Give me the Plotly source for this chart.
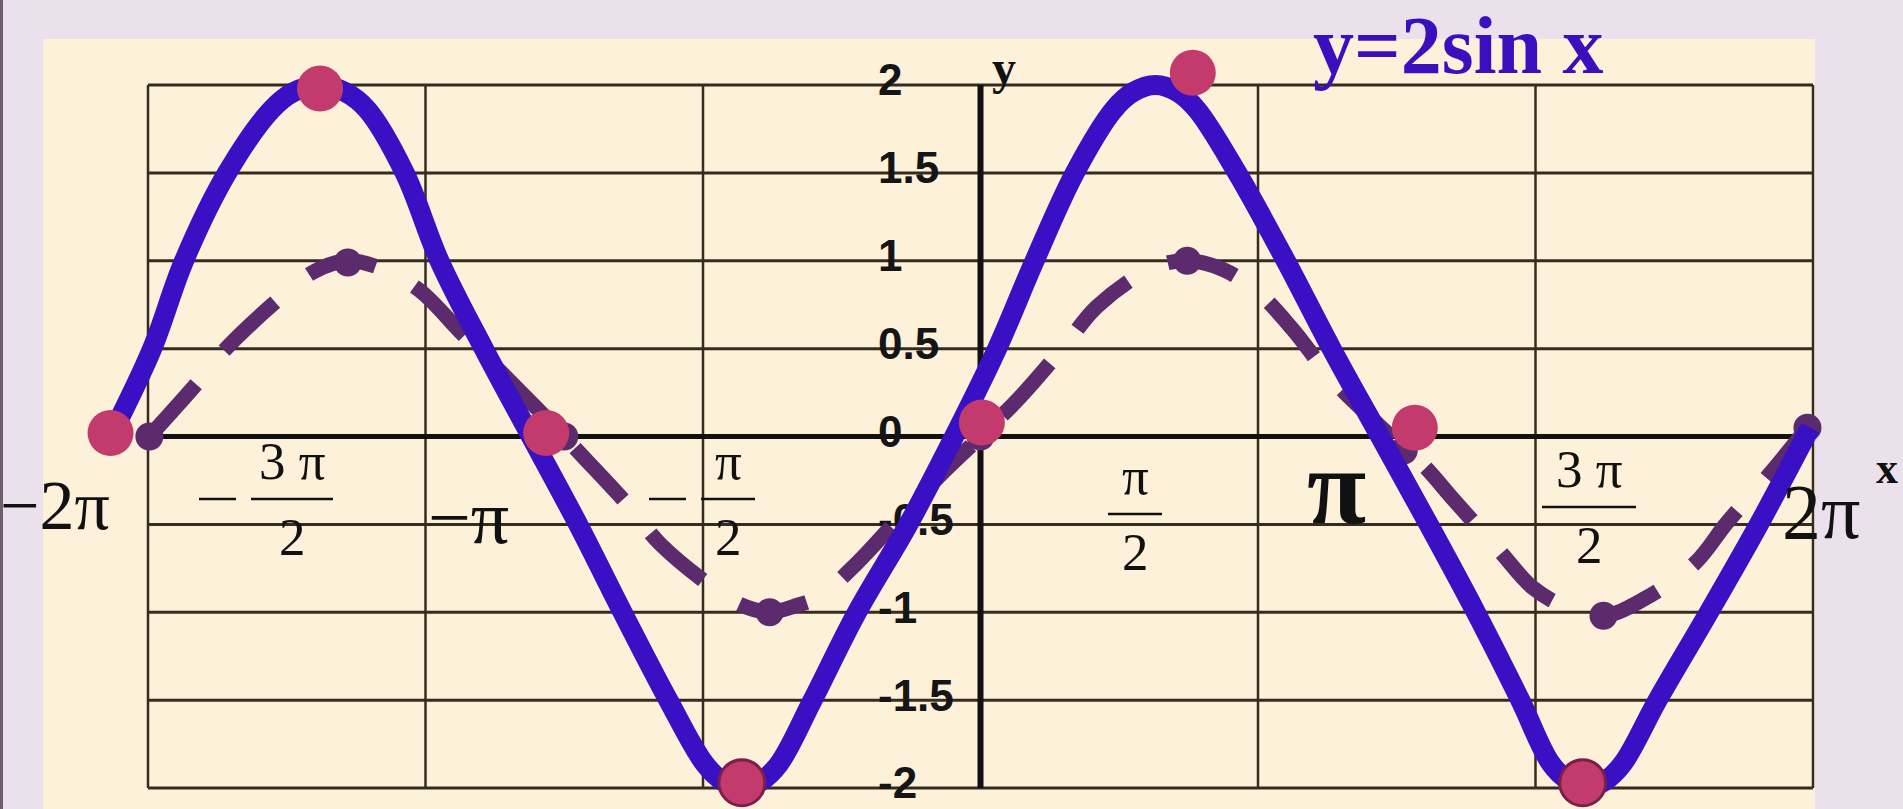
import plotly.graph_objects as go

W, H = 1903, 809

# y = sin x  (dashed curve)
sin_x = [-5.99, -5.65, -5.45, -5.06, -4.8, -4.56, -4.3, -4.04, -3.73, -3.41, -3.0,
         -2.87, -2.53, -2.31, -1.91, -1.72, -1.52, -1.32, -1.16, -0.89, -0.56, -0.29,
         0.0, 0.28, 0.61, 0.84, 1.24, 1.49, 1.75, 2.0, 2.25, 2.54, 2.96, 3.2, 3.41,
         3.74, 3.98, 4.22, 4.49, 4.77, 5.15, 5.38, 5.68, 5.96]
sin_y = [0.0, 0.30, 0.49, 0.78, 0.94, 1.0, 0.95, 0.83, 0.58, 0.33, 0.0,
         -0.11, -0.40, -0.61, -0.87, -0.96, -1.0, -0.96, -0.91, -0.72, -0.44, -0.22,
         0.0, 0.22, 0.52, 0.74, 0.96, 1.0, 0.95, 0.82, 0.61, 0.32, 0.0, -0.17, -0.36,
         -0.65, -0.86, -0.97, -1.02, -0.93, -0.72, -0.49, -0.22, 0.05]
sin_mark_x = [-5.99, -4.56, -3.0, -1.52, 0.0, 1.49, 3.05, 4.49, 5.96]
sin_mark_y = [0.0, 0.99, 0.0, -1.0, 0.0, 1.0, -0.08, -1.02, 0.05]

# y = 2 sin x  (solid curve)
two_x = [-6.27, -5.97, -5.74, -5.43, -5.11, -4.95, -4.76, -4.58, -4.42, -4.15, -3.9,
         -3.58, -3.24, -2.9, -2.58, -2.25, -1.99, -1.86, -1.72, -1.58, -1.45, -1.21,
         -0.89, -0.52, -0.19, 0.12, 0.39, 0.68, 0.96, 1.1, 1.26, 1.42, 1.56, 1.85,
         2.2, 2.53, 2.88, 3.23, 3.57, 3.89, 4.11, 4.24, 4.37, 4.5, 4.63, 4.88, 5.25,
         5.61, 5.98]
two_y = [0.0, 0.5, 1.0, 1.5, 1.86, 1.96, 2.0, 1.96, 1.86, 1.5, 1.0,
         0.5, 0.0, -0.5, -1.0, -1.5, -1.86, -1.96, -2.0, -1.96, -1.86, -1.5,
         -1.0, -0.5, 0.0, 0.5, 1.0, 1.5, 1.86, 1.96, 2.0, 1.96, 1.86, 1.5,
         1.0, 0.5, 0.0, -0.5, -1.0, -1.5, -1.86, -1.96, -2.0, -1.96, -1.86, -1.5, -1.0,
         -0.5, 0.05]
two_mark_x = [-6.27, -4.76, -3.13, -1.72, 0.01, 1.53, 3.13, 4.34]
two_mark_y = [0.02, 1.98, 0.02, -1.97, 0.08, 2.07, 0.05, -1.97]

y_tick_vals = [2, 1.5, 1, 0.5, 0, -0.5, -1, -1.5, -2]
y_tick_text = ["2", "1.5", "1", "0.5", "0", "-0.5", "-1", "-1.5", "-2"]
x_grid_vals = [-6, -4, -2, 0, 2, 4, 6]
x_tick_text = ["−2π", "−3π/2", "−π", "−π/2", "π/2", "π", "3π/2", "2π"]

# where each x label sits (pixels) and how large it is set
x_label_px = [55, 292, 468, 728, 1135, 1336, 1589, 1821]
x_label_py = [505, 499, 517, 499, 514, 486, 507, 511]
x_label_size = [70, 53, 76, 53, 53, 108, 53, 78]
x_label_bold = [False, False, False, False, False, True, False, False]
bar_half = [0, 41, 0, 27, 27, 0, 47, 0]

# pixel frame of the axes: origin and pixels per unit
X0, Y0 = 980.5, 436.5
SX, SY = 138.75, 175.75
x_range = [-X0 / SX, (W - X0) / SX]
y_range = [(Y0 - H) / SY, Y0 / SY]


def fx(p):
    return p / W


def fy(p):
    return 1 - p / H


SERIF = "Times New Roman, Liberation Serif, serif"
INK = "#111111"
GRID = "#342C1E"
BLUE = "#3A10C4"
PURPLE = "#5B2B6E"
CRIMSON = "#C23B6C"

shapes = [
    dict(type="rect", xref="paper", yref="paper", x0=0, x1=fx(3), y0=0, y1=1,
         fillcolor="#6E5E70", line=dict(width=0), layer="below"),
    dict(type="rect", xref="paper", yref="paper", x0=fx(43), x1=fx(1815),
         y0=fy(809), y1=fy(39), fillcolor="#FDF1DA", line=dict(width=0), layer="below"),
]
xl, xr = x_grid_vals[0], x_grid_vals[-1]
yb, yt = y_tick_vals[-1], y_tick_vals[0]
for v in y_tick_vals:
    if v != 0:
        shapes.append(dict(type="line", xref="x", yref="y", x0=xl, x1=xr, y0=v, y1=v,
                           line=dict(color=GRID, width=3), layer="below"))
for v in x_grid_vals:
    if v != 0:
        shapes.append(dict(type="line", xref="x", yref="y", x0=v, x1=v, y0=yb, y1=yt,
                           line=dict(color=GRID, width=2.5), layer="below"))
# axes through the origin
shapes.append(dict(type="line", xref="x", yref="y", x0=xl, x1=xr, y0=0, y1=0,
                   line=dict(color=INK, width=5), layer="below"))
shapes.append(dict(type="line", xref="x", yref="y", x0=0, x1=0, y0=yb, y1=yt,
                   line=dict(color=INK, width=6), layer="below"))

annotations = [
    dict(text="<b>y=2sin x</b>", x=fx(1458), y=fy(45), xref="paper", yref="paper",
         showarrow=False, xanchor="center", yanchor="middle",
         font=dict(family=SERIF, size=82, color="#3A10BE")),
    dict(text="<b>y</b>", x=fx(1004), y=fy(67), xref="paper", yref="paper",
         showarrow=False, xanchor="center", yanchor="middle",
         font=dict(family=SERIF, size=48, color=INK)),
    dict(text="<b>x</b>", x=fx(1887), y=fy(468), xref="paper", yref="paper",
         showarrow=False, xanchor="center", yanchor="middle",
         font=dict(family=SERIF, size=44, color=INK)),
]

# x labels: plain ones as one text, fractions as numerator / bar / denominator
for txt, cx, cy, size, bold, half in zip(x_tick_text, x_label_px, x_label_py,
                                         x_label_size, x_label_bold, bar_half):
    if "/" not in txt:
        t = f"<b>{txt}</b>" if bold else txt
        annotations.append(dict(text=t, x=fx(cx), y=fy(cy), xref="paper", yref="paper",
                                showarrow=False, xanchor="center", yanchor="middle",
                                font=dict(family=SERIF, size=size, color=INK)))
        continue
    neg = txt.startswith("−")
    num, den = txt.lstrip("−").split("/")
    num = num.replace("3π", "3 π")
    shapes.append(dict(type="line", xref="paper", yref="paper",
                       x0=fx(cx - half), x1=fx(cx + half), y0=fy(cy), y1=fy(cy),
                       line=dict(color=INK, width=2.5)))
    if neg:
        shapes.append(dict(type="line", xref="paper", yref="paper",
                           x0=fx(cx - half - 52), x1=fx(cx - half - 15),
                           y0=fy(cy), y1=fy(cy), line=dict(color=INK, width=2.5)))
    annotations.append(dict(text=num, x=fx(cx), y=fy(cy - 38), xref="paper", yref="paper",
                            showarrow=False, xanchor="center", yanchor="middle",
                            font=dict(family=SERIF, size=size, color=INK)))
    annotations.append(dict(text=den, x=fx(cx), y=fy(cy + 38), xref="paper", yref="paper",
                            showarrow=False, xanchor="center", yanchor="middle",
                            font=dict(family=SERIF, size=size, color=INK)))

fig = go.Figure()
fig.add_trace(go.Scatter(x=sin_x, y=sin_y, mode="lines", hoverinfo="skip",
                         line=dict(color=PURPLE, width=15, dash="70px,44px",
                                   shape="spline", smoothing=1.0)))
fig.add_trace(go.Scatter(x=sin_mark_x, y=sin_mark_y, mode="markers", hoverinfo="skip",
                         marker=dict(size=28, color=PURPLE)))
fig.add_trace(go.Scatter(x=two_x, y=two_y, mode="lines", hoverinfo="skip",
                         line=dict(color=BLUE, width=20, shape="spline", smoothing=1.0)))
fig.add_trace(go.Scatter(x=two_mark_x, y=two_mark_y, mode="markers", hoverinfo="skip",
                         marker=dict(size=46, color=CRIMSON,
                                     line=dict(color="#7A1E4A",
                                               width=[0, 0, 0, 3, 0, 0, 0, 3]))))

fig.update_layout(
    width=W, height=H,
    margin=dict(l=0, r=0, t=0, b=0, pad=0),
    paper_bgcolor="#EBE1EC",
    plot_bgcolor="rgba(0,0,0,0)",
    showlegend=False,
    shapes=shapes,
    annotations=annotations,
    xaxis=dict(visible=False, range=x_range, fixedrange=True),
    yaxis=dict(range=y_range, fixedrange=True, anchor="free", position=fx(877),
               side="right", tickmode="array", tickvals=y_tick_vals, ticktext=y_tick_text,
               ticks="", showline=False, showgrid=False, zeroline=False,
               automargin=False, layer="below traces", ticklabeloverflow="allow",
               ticklabelshift=-5,
               tickfont=dict(family="Arial, Liberation Sans, sans-serif", size=44,
                             color="#151515", weight="bold")),
)

fig.write_html("out.html")
